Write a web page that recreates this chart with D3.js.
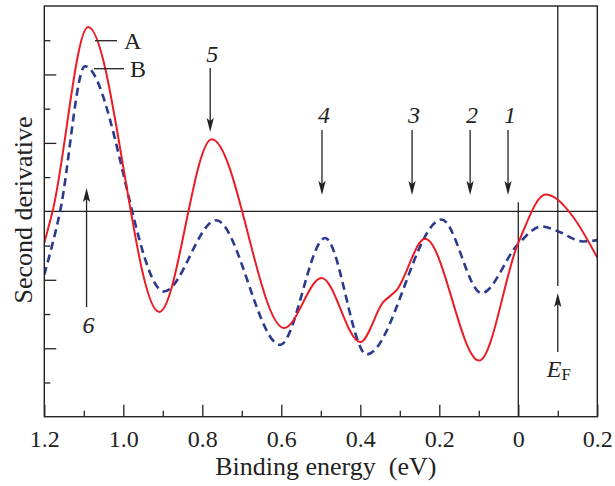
<!DOCTYPE html>
<html>
<head>
<meta charset="utf-8">
<script src="https://cdnjs.cloudflare.com/ajax/libs/d3/7.8.5/d3.min.js"></script>
<style>
body { margin: 0; background: #fff; }
text { font-family: "Liberation Serif", "Times New Roman", serif; fill: #222; }
</style>
</head>
<body>
<div id="chart"></div>
<script>
// Curve A (solid red): binding energy (eV) / second derivative (arb. units)
var energyA = [1.200, 1.179, 1.089, 0.909, 0.776, 0.593, 0.498, 0.400, 0.343, 0.307,
    0.236, 0.099, 0.000, -0.069, -0.100, -0.138, -0.200];
var valueA = [-0.92, 0, 5.39, -2.94, 2.11, -3.41, -1.95, -3.82, -2.67, -2.29,
    -0.80, -4.36, -0.92, 0.49, 0.34, -0.15, -1.35];

// Curve B (dashed blue)
var energyB = [1.200, 1.160, 1.097, 0.897, 0.765, 0.603, 0.489, 0.384, 0.194, 0.093,
    0.000, -0.059, -0.100, -0.164, -0.200];
var valueB = [-1.85, 0, 4.24, -2.34, -0.26, -3.90, -0.78, -4.18, -0.24, -2.39,
    -0.95, -0.44, -0.58, -0.88, -0.84];

// Axis ticks
var majorTicks = [1.2, 1.0, 0.8, 0.6, 0.4, 0.2, 0, -0.2];
var tickLabels = ["1.2", "1.0", "0.8", "0.6", "0.4", "0.2", "0", "0.2"];
var minorTicks = [1.1, 0.9, 0.7, 0.5, 0.3, 0.1, -0.1];
var yLongTicks = [-4, -2, 2, 4];
var yShortTicks = [-5, -3, -1, 1, 3, 5];

// Marked features
var peakNames = ["1", "2", "3", "4", "5", "6"];
var peakEnergy = [0.026, 0.122, 0.269, 0.497, 0.780, 1.093];
var fermiEnergy = -0.1;

function draw_chart() {
    "use strict";
    var W = 615, H = 486;
    var left = 44.3, right = 597.3, top = 6, bottom = 416.7;

    var svg = d3.select("#chart")
        .append("svg")
        .attr("width", W)
        .attr("height", H);

    var x = d3.scaleLinear().domain([1.2, -0.2]).range([left, right]);
    var y = d3.scaleLinear().domain([-6, 6]).range([bottom, top]);

    //Clip for curves
    svg.append("clipPath").attr("id", "plotclip")
        .append("rect")
        .attr("x", left).attr("y", top)
        .attr("width", right - left).attr("height", bottom - top);

    //Bottom axis: major ticks with labels, minor ticks without
    var xAxis = svg.append("g")
        .attr("transform", "translate(0," + bottom + ")")
        .call(d3.axisBottom(x)
            .tickValues(majorTicks)
            .tickSizeInner(-12)
            .tickSizeOuter(0)
            .tickPadding(13)
            .tickFormat(function (d) {
                return tickLabels[majorTicks.indexOf(d)];
            }));
    xAxis.select(".domain").remove();
    xAxis.selectAll("line").attr("stroke", "#222").attr("stroke-width", 1.3);
    xAxis.selectAll("text")
        .style("font-family", "'Liberation Serif', 'Times New Roman', serif")
        .style("font-size", "24px")
        .attr("fill", "#222");

    var xMinor = svg.append("g")
        .attr("transform", "translate(0," + bottom + ")")
        .call(d3.axisBottom(x).tickValues(minorTicks).tickSizeInner(-6).tickSizeOuter(0).tickFormat(""));
    xMinor.select(".domain").remove();
    xMinor.selectAll("line").attr("stroke", "#222").attr("stroke-width", 1.3);

    //Left axis ticks (inward, alternating long and short)
    [[yLongTicks, 12], [yShortTicks, 6]].forEach(function (t) {
        var g = svg.append("g")
            .attr("transform", "translate(" + left + ",0)")
            .call(d3.axisLeft(y).tickValues(t[0]).tickSizeInner(-t[1]).tickSizeOuter(0).tickFormat(""));
        g.select(".domain").remove();
        g.selectAll("line").attr("stroke", "#222").attr("stroke-width", 1.3);
    });

    //Zero line
    svg.append("line")
        .attr("x1", left).attr("x2", right)
        .attr("y1", y(0)).attr("y2", y(0))
        .attr("stroke", "#222").attr("stroke-width", 1.3);

    //Vertical line at 0 eV (lower half) and at the Fermi level
    svg.append("line")
        .attr("x1", x(0)).attr("x2", x(0))
        .attr("y1", y(0) - 9).attr("y2", bottom)
        .attr("stroke", "#222").attr("stroke-width", 1.3);
    svg.append("line")
        .attr("x1", x(fermiEnergy)).attr("x2", x(fermiEnergy))
        .attr("y1", top).attr("y2", 286)
        .attr("stroke", "#222").attr("stroke-width", 1.3);

    //Curves through the read extrema (flat at each peak and dip)
    var line = d3.line()
        .x(function (d) { return x(d[0]); })
        .y(function (d) { return y(d[1]); })
        .curve(d3.curveMonotoneX);

    svg.append("path")
        .datum(d3.zip(energyB, valueB))
        .attr("clip-path", "url(#plotclip)")
        .attr("d", line)
        .attr("fill", "none")
        .attr("stroke", "#2b3a8f")
        .attr("stroke-width", 2.6)
        .attr("stroke-dasharray", "8,5");

    svg.append("path")
        .datum(d3.zip(energyA, valueA))
        .attr("clip-path", "url(#plotclip)")
        .attr("d", line)
        .attr("fill", "none")
        .attr("stroke", "#ec1c24")
        .attr("stroke-width", 2);

    //Frame
    svg.append("rect")
        .attr("x", left).attr("y", top)
        .attr("width", right - left).attr("height", bottom - top)
        .attr("fill", "none")
        .attr("stroke", "#222").attr("stroke-width", 1.4);

    //Arrow helper: vertical shaft from y0 to tip at y1
    function arrow(px, y0, y1) {
        var dir = y1 > y0 ? 1 : -1;
        svg.append("line")
            .attr("x1", px).attr("x2", px)
            .attr("y1", y0).attr("y2", y1 - dir * 10)
            .attr("stroke", "#222").attr("stroke-width", 1.3);
        svg.append("path")
            .attr("d", "M" + px + "," + y1 +
                "L" + (px - 3.6) + "," + (y1 - dir * 14) +
                "L" + px + "," + (y1 - dir * 11) +
                "L" + (px + 3.6) + "," + (y1 - dir * 14) + "Z")
            .attr("fill", "#222");
    }

    peakNames.forEach(function (name, i) {
        var px = x(peakEnergy[i]);
        var lab;
        if (name === "6") {
            arrow(px, 307, 188);
            lab = 333;
        } else if (name === "5") {
            arrow(px, 68, 132);
            lab = 62;
        } else {
            arrow(px, 130, 195);
            lab = 123;
        }
        svg.append("text")
            .attr("x", px + 2)
            .attr("y", lab)
            .attr("text-anchor", "middle")
            .style("font-size", "24px")
            .style("font-style", "italic")
            .text(name);
    });

    //Fermi level arrow and label
    arrow(x(fermiEnergy), 352, 293);
    var ef = svg.append("text")
        .attr("x", x(fermiEnergy) - 11)
        .attr("y", 377)
        .style("font-size", "24px");
    ef.append("tspan").style("font-style", "italic").text("E");
    ef.append("tspan").attr("dy", 3).style("font-size", "17px").text("F");

    //Curve labels with leader lines
    svg.append("line").attr("x1", 95).attr("x2", 117).attr("y1", 40.7).attr("y2", 40.7)
        .attr("stroke", "#222").attr("stroke-width", 1.3);
    svg.append("text").attr("x", 124).attr("y", 49).style("font-size", "24px").text("A");
    svg.append("line").attr("x1", 94).attr("x2", 124).attr("y1", 68.7).attr("y2", 68.7)
        .attr("stroke", "#222").attr("stroke-width", 1.3);
    svg.append("text").attr("x", 130).attr("y", 77).style("font-size", "24px").text("B");

    //Axis titles
    svg.append("text")
        .attr("x", (left + right) / 2 + 5)
        .attr("y", 475)
        .attr("text-anchor", "middle")
        .style("font-size", "26px")
        .text("Binding energy\u00a0\u00a0(eV)");

    svg.append("text")
        .attr("transform", "translate(32,210) rotate(-90)")
        .attr("text-anchor", "middle")
        .style("font-size", "26px")
        .text("Second derivative");
}

draw_chart();
</script>
</body>
</html>
